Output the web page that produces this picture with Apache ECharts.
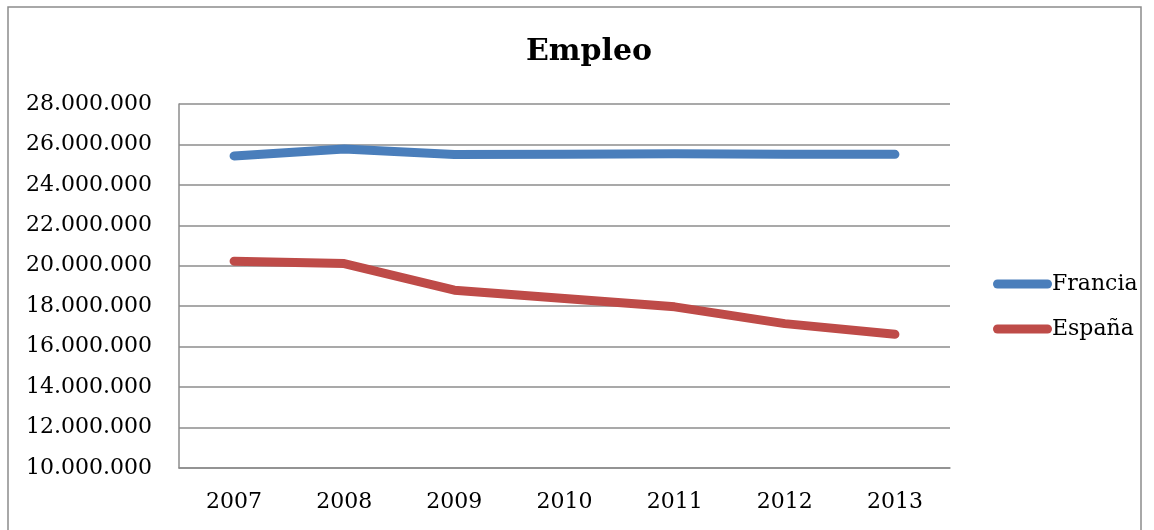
<!DOCTYPE html>
<html>
<head>
<meta charset="utf-8">
<script src="https://cdn.jsdelivr.net/npm/echarts@6/dist/echarts.min.js"></script>
<style>
html,body{margin:0;padding:0;background:#fff;}
#chart{width:1154px;height:530px;}
</style>
</head>
<body>
<div id="chart"></div>
<script>
const categories = ['2007','2008','2009','2010','2011','2012','2013'];
const francia = [25430000, 25770000, 25500000, 25520000, 25540000, 25520000, 25510000];
const espana = [20230000, 20110000, 18790000, 18380000, 17970000, 17140000, 16610000];
const seriesNames = ['Francia', 'España'];
const titleText = 'Empleo';

const FONT = '"DejaVu Serif", serif';
const chart = echarts.init(document.getElementById('chart'));
const legendIcon = 'path://M4.5,0 H54.5 A4.5,4.5 0 0 1 54.5,9 H4.5 A4.5,4.5 0 0 1 4.5,0 Z';

function fmt(v){
  return String(Math.round(v)).replace(/\B(?=(\d{3})+(?!\d))/g, '.');
}

chart.setOption({
  animation: false,
  backgroundColor: '#fff',
  title: {
    text: titleText,
    left: 584,
    textAlign: 'center',
    top: 32,
    textStyle: {fontFamily: FONT, fontSize: 30, fontWeight: 'bold', color: '#000'}
  },
  graphic: [{
    type: 'rect',
    shape: {x: 8, y: 7, width: 1133, height: 540},
    style: {fill: 'none', stroke: '#8c8c8c', lineWidth: 1.5},
    silent: true,
    z: -1
  }],
  legend: {
    orient: 'vertical',
    left: 988,
    top: 268,
    itemWidth: 59,
    itemHeight: 9,
    itemGap: 23,
    icon: legendIcon,
    textStyle: {fontFamily: FONT, fontSize: 22, color: '#000', padding: [0,0,0,-5]},
    data: seriesNames
  },
  grid: {left: 179, right: 204, top: 104, bottom: 62, containLabel: false},
  xAxis: {
    type: 'category',
    data: categories,
    boundaryGap: true,
    axisLine: {show: true, lineStyle: {color: '#8c8c8c', width: 1.5}},
    axisTick: {show: false},
    axisLabel: {fontFamily: FONT, fontSize: 22, color: '#000', margin: 23}
  },
  yAxis: {
    type: 'value',
    min: 10000000,
    max: 28000000,
    interval: 2000000,
    axisLine: {show: true, lineStyle: {color: '#8c8c8c', width: 1.5}},
    axisTick: {show: false},
    splitLine: {show: true, lineStyle: {color: '#8c8c8c', width: 1.5}},
    axisLabel: {fontFamily: FONT, fontSize: 22, color: '#000', margin: 27, formatter: fmt}
  },
  series: [
    {
      name: seriesNames[0], type: 'line', data: francia, showSymbol: false, symbol: 'none',
      color: '#4a7ebb',
      lineStyle: {width: 9, color: '#4a7ebb', cap: 'round', join: 'round'}
    },
    {
      name: seriesNames[1], type: 'line', data: espana, showSymbol: false, symbol: 'none',
      color: '#be4b48',
      lineStyle: {width: 9, color: '#be4b48', cap: 'round', join: 'round'}
    }
  ]
});
</script>
</body>
</html>
